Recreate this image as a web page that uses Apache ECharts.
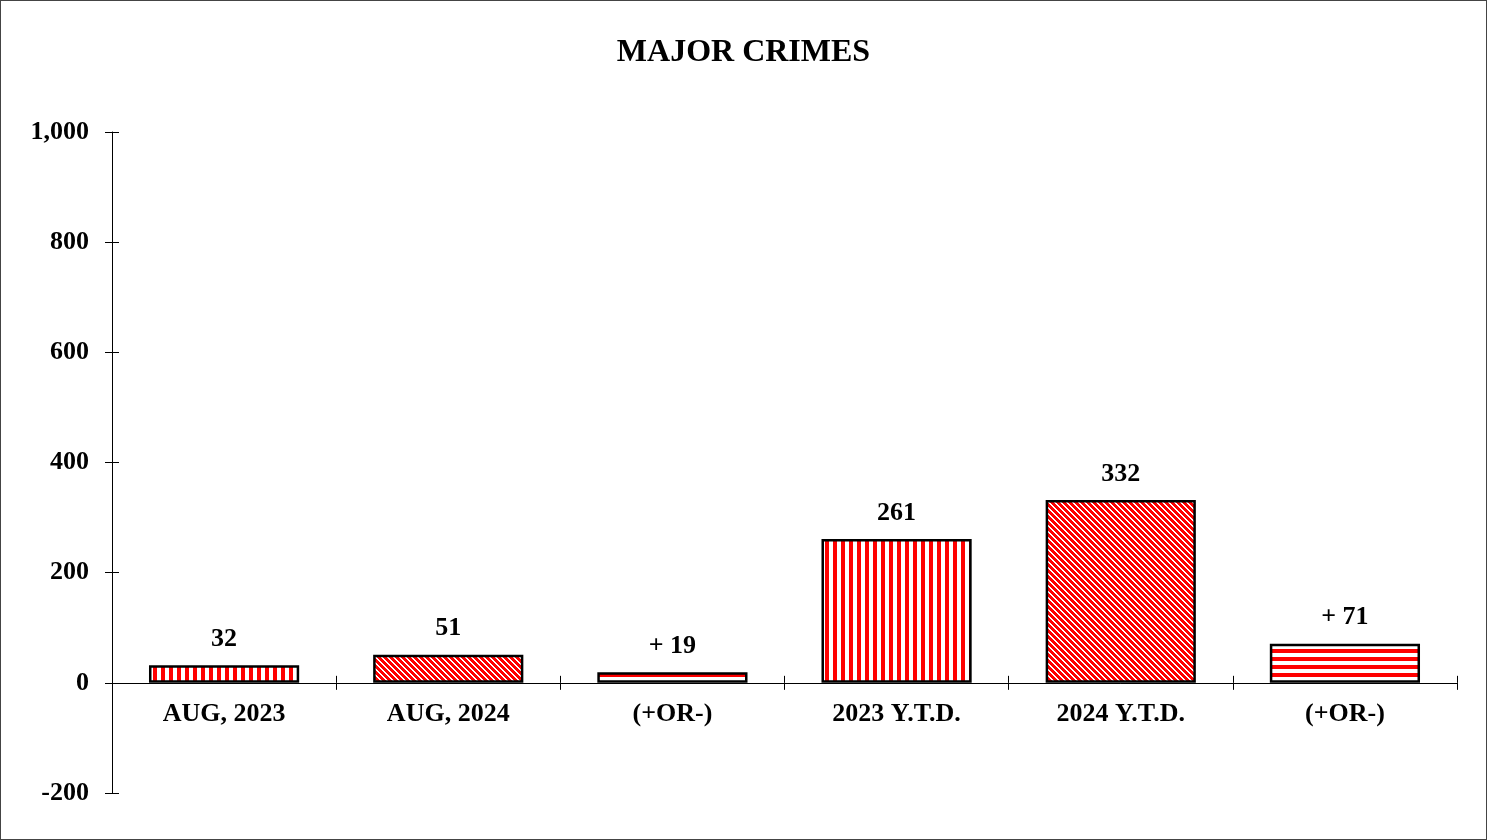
<!DOCTYPE html>
<html><head><meta charset="utf-8">
<script src="https://cdn.jsdelivr.net/npm/echarts@6/dist/echarts.min.js"></script>
<style>
html,body{margin:0;padding:0;background:#fff;}
#wrap{position:absolute;left:0;top:0;width:1485px;height:838px;border:1px solid #444;}
#chart{width:1485px;height:838px;}
</style></head>
<body><div id="wrap"><div id="chart"></div></div>
<script>
const categories = ['AUG, 2023', 'AUG, 2024', '(+OR-)', '2023 Y.T.D.', '2024 Y.T.D.', '(+OR-)'];
const values = [32, 51, 19, 261, 332, 71];
const valueLabels = ['32', '51', '+ 19', '261', '332', '+ 71'];
const yTicks = [-200, 0, 200, 400, 600, 800, 1000];
const patternKinds = ['vertical', 'diagonal', 'horizontal', 'vertical', 'diagonal', 'horizontal'];

function makePattern(kind) {
  const c = document.createElement('canvas');
  const RED = '#ff0000', WHITE = '#ffffff';
  const ctx = c.getContext('2d');
  if (kind === 'vertical') {
    c.width = 8; c.height = 8;
    ctx.fillStyle = WHITE; ctx.fillRect(0, 0, 8, 8);
    ctx.fillStyle = RED; ctx.fillRect(0, 0, 4, 8);
  } else if (kind === 'horizontal') {
    c.width = 8; c.height = 8;
    ctx.fillStyle = WHITE; ctx.fillRect(0, 0, 8, 8);
    ctx.fillStyle = RED; ctx.fillRect(0, 0, 8, 4);
  } else {
    const n = 6;
    c.width = n; c.height = n;
    for (let x = 0; x < n; x++) for (let y = 0; y < n; y++) {
      const d = ((x - y) % n + n) % n;
      ctx.fillStyle = (d < 2) ? WHITE : RED;
      ctx.fillRect(x, y, 1, 1);
    }
  }
  return c;
}

const chart = echarts.init(document.getElementById('chart'), null, {renderer: 'canvas'});
const font = '"Liberation Serif", "Times New Roman", serif';
const gridTop = 131, gridBottom = 46, chartH = 838;
const plotH = chartH - gridTop - gridBottom;
const zeroOffset = -plotH * (0 - (-200)) / (1000 - (-200));
chart.setOption({
  animation: false,
  title: {
    text: 'MAJOR CRIMES', left: 'center', top: 31,
    textStyle: {fontFamily: font, fontWeight: 'bold', fontSize: 32, color: '#000'}
  },
  grid: {left: 111, right: 29, top: gridTop, bottom: gridBottom, containLabel: false},
  xAxis: [{
    type: 'category', data: categories, position: 'bottom', offset: zeroOffset,
    axisLine: {onZero: false, lineStyle: {color: '#000', width: 1}},
    axisTick: {show: true, length: 7, inside: false, lineStyle: {color: '#000'}},
    axisLabel: {fontFamily: font, fontWeight: 'bold', fontSize: 26, color: '#000', margin: 18, interval: 0}
  }, {
    type: 'category', data: categories, position: 'bottom', offset: zeroOffset,
    axisLine: {show: false, onZero: false},
    axisTick: {show: true, length: 7, inside: true, lineStyle: {color: '#000'}},
    axisLabel: {show: false}
  }],
  yAxis: [{
    type: 'value', min: -200, max: 1000, interval: 200,
    splitLine: {show: false},
    axisLine: {show: true, lineStyle: {color: '#000', width: 1}},
    axisTick: {show: true, length: 7, lineStyle: {color: '#000'}},
    axisLabel: {fontFamily: font, fontWeight: 'bold', fontSize: 26, color: '#000', margin: 23,
      formatter: v => yTicks.includes(v) ? v.toLocaleString('en-US') : ''}
  }, {
    type: 'value', min: -200, max: 1000, interval: 200, position: 'left',
    splitLine: {show: false},
    axisLine: {show: false},
    axisTick: {show: true, length: 7, inside: true, lineStyle: {color: '#000'}},
    axisLabel: {show: false}
  }],
  series: [{
    type: 'bar', barWidth: '67%', xAxisIndex: 0, yAxisIndex: 0,
    data: values.map((v, i) => ({
      value: v,
      itemStyle: {color: {image: makePattern(patternKinds[i]), repeat: 'repeat'}, borderColor: '#000', borderWidth: 2.5},
      label: {formatter: valueLabels[i]}
    })),
    label: {show: true, position: 'top', distance: 13, fontFamily: font, fontWeight: 'bold', fontSize: 26, color: '#000'}
  }]
});
</script></body></html>
